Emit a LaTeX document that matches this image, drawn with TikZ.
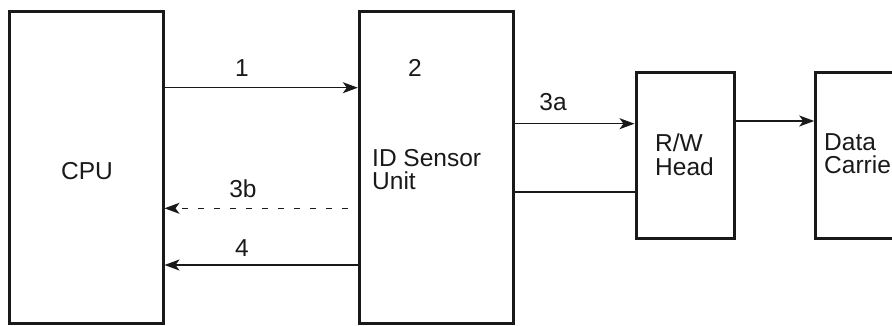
\documentclass[tikz,border=0pt]{standalone}
\usepackage{fontspec}
\setmainfont{Liberation Sans}
\usetikzlibrary{arrows.meta}
\begin{document}
\begin{tikzpicture}[x=1pt,y=-1pt,
 box/.style={draw=black!90, line width=3pt, inner sep=0pt},
 lbl/.style={font=\fontsize{24.5}{23.3}\selectfont, inner sep=0pt, text=black!90},
 arr/.style={draw=black!90, line width=1.4pt, -{Stealth[length=15pt,width=11pt,inset=4pt]}}]
\useasboundingbox (0,0) rectangle (892,325);
\clip (0,0) rectangle (892,325);
\node[box, minimum width=154pt, minimum height=312.5pt] (cpu) at (86,167.25) {};
\node[box, minimum width=154pt, minimum height=312.5pt] (ids) at (436.3,167.25) {};
\node[box, minimum width=98pt, minimum height=166pt] (head) at (685,155.3) {};
\node[box, minimum width=154pt, minimum height=166pt] (carrier) at (892.7,155.3) {};
% texts
\node[lbl, anchor=base] (tcpu) at (87,179) {CPU};
\node[lbl, anchor=base west, align=left] (tids) at (372,189.8) {ID Sensor\\Unit};
\node[lbl, anchor=base west, align=left] (thead) at (655,175.1) {R/W\\Head};
\node[lbl, anchor=base west, align=left] (tcar) at (824,173.3) {Data\\Carrier};
\node[lbl, anchor=base] (l1) at (242,76.4) {1};
\node[lbl, anchor=base] (l2) at (415,76.4) {2};
\node[lbl, anchor=base] (l3a) at (553,110) {3a};
\node[lbl, anchor=base] (l3b) at (243,197.3) {3b};
\node[lbl, anchor=base] (l4) at (242,256.3) {4};
% connectors
\coordinate (y1) at (0,87.7);
\coordinate (y3a) at (0,123.7);
\coordinate (yl) at (0,192.3);
\coordinate (yc) at (0,121);
\coordinate (y3b) at (0,208.3);
\coordinate (y4) at (0,265);
\draw[arr] (cpu.east |- y1) -- (ids.west |- y1);
\draw[arr] (ids.east |- y3a) -- (head.west |- y3a);
\draw[draw=black!90, line width=2pt] (ids.east |- yl) -- (head.west |- yl);
\draw[arr] (head.east |- yc) -- (carrier.west |- yc);
\draw[arr, dash pattern=on 6pt off 10pt, shorten <=10pt] (ids.west |- y3b) -- (cpu.east |- y3b);
\draw[arr] (ids.west |- y4) -- (cpu.east |- y4);
\end{tikzpicture}
\end{document}
